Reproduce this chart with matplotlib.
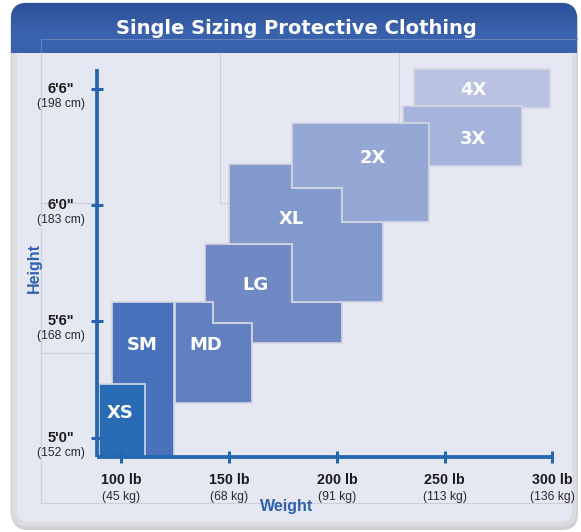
import numpy as np
import matplotlib
matplotlib.use("Agg")
import matplotlib.pyplot as plt
from matplotlib import font_manager as fm
from matplotlib.patches import FancyBboxPatch, Rectangle
from matplotlib.colors import LinearSegmentedColormap

# ---------------- data ----------------
size_names = ["4X", "3X", "SM", "XS", "MD", "LG", "XL", "2X"]
size_colors = ["#b9c2e1", "#a6b3db", "#4873bc", "#2a6bb5",
               "#6080c2", "#7089c4", "#8299ce", "#95a7d4"]
# outline vertices of each size region: weight (lb), height (in)
w_4x = [235.6, 299.0, 299.0, 235.6]
h_4x = [79.0, 79.0, 77.0, 77.0]
w_3x = [230.5, 286.0, 286.0, 230.5]
h_3x = [77.1, 77.1, 74.0, 74.0]
w_sm = [95.8, 124.3, 124.3, 95.8]
h_sm = [67.0, 67.0, 59.0, 59.0]
w_xs = [89.6, 110.9, 110.9, 89.6]
h_xs = [62.8, 62.8, 59.0, 59.0]
w_md = [124.9, 142.6, 142.6, 160.5, 160.5, 124.9]
h_md = [67.0, 67.0, 65.9, 65.9, 61.8, 61.8]
w_lg = [138.8, 179.0, 179.0, 202.5, 202.5, 160.5, 160.5, 142.6, 142.6, 138.8]
h_lg = [70.0, 70.0, 67.0, 67.0, 64.9, 64.9, 65.9, 65.9, 67.0, 67.0]
w_xl = [149.8, 179.0, 179.0, 202.5, 202.5, 221.5, 221.5, 179.0, 179.0, 149.8]
h_xl = [74.1, 74.1, 72.9, 72.9, 71.1, 71.1, 67.0, 67.0, 70.0, 70.0]
w_2x = [179.0, 242.8, 242.8, 202.5, 202.5, 179.0]
h_2x = [76.2, 76.2, 71.1, 71.1, 72.9, 72.9]
size_w = [w_4x, w_3x, w_sm, w_xs, w_md, w_lg, w_xl, w_2x]
size_h = [h_4x, h_3x, h_sm, h_xs, h_md, h_lg, h_xl, h_2x]
label_w = [263.2, 263.2, 109.6, 99.6, 139.3, 162.0, 178.7, 216.8]
label_h = [77.9, 75.4, 64.8, 61.3, 64.8, 67.9, 71.3, 74.4]

weight_ticks = [100, 150, 200, 250, 300]
weight_labels = ["100 lb", "150 lb", "200 lb", "250 lb", "300 lb"]
weight_kg = ["(45 kg)", "(68 kg)", "(91 kg)", "(113 kg)", "(136 kg)"]
height_ticks = [60, 66, 72, 78]
height_labels = ["5'0\"", "5'6\"", "6'0\"", "6'6\""]
height_cm = ["(152 cm)", "(168 cm)", "(183 cm)", "(198 cm)"]
axis_w_min, axis_w_max = 88.7, 300
axis_h_min, axis_h_max = 59.0, 79.0

title = "Single Sizing Protective Clothing"

# ---------------- fonts ----------------
def has_font(name):
    try:
        fm.findfont(fm.FontProperties(family=name), fallback_to_default=False)
        return True
    except Exception:
        return False

NARROW = has_font("Liberation Sans Narrow")
if NARROW:
    cond_family = ["Liberation Sans Narrow", "DejaVu Sans"]
    title_size, size_label_size = 18.5, 16
else:
    cond_family = ["DejaVu Sans"]
    title_size, size_label_size = 14, 13
base_family = ["Liberation Sans", "DejaVu Sans"]

W, H = 581, 532
fig = plt.figure(figsize=(W / 100, H / 100), dpi=100)

# ---------------- background (pixel coords) ----------------
bg = fig.add_axes([0, 0, 1, 1])
bg.set_xlim(0, W)
bg.set_ylim(H, 0)
bg.axis("off")

bg.add_patch(FancyBboxPatch((12, 5), 566, 525, boxstyle="round,pad=0,rounding_size=16",
                            facecolor="#cfcfd3", edgecolor="none", zorder=0))
bg.add_patch(FancyBboxPatch((11, 3), 566, 524, boxstyle="round,pad=0,rounding_size=16",
                            facecolor="#dcdce0", edgecolor="#d2d2d6", lw=0.8, zorder=1))
bg.add_patch(FancyBboxPatch((17, 20), 555, 502, boxstyle="round,pad=0,rounding_size=12",
                            facecolor="#e5e7f3", edgecolor="none", zorder=2))

banner = FancyBboxPatch((11, 3), 566, 50, boxstyle="round,pad=0,rounding_size=16",
                        facecolor="#3a5fa9", edgecolor="none", zorder=3)
bg.add_patch(banner)
grad = np.linspace(0, 1, 60).reshape(-1, 1)
cmap = LinearSegmentedColormap.from_list("b", ["#2c509a", "#3a60aa", "#3862ad"])
im = bg.imshow(grad, extent=(11, 577, 53, 3), cmap=cmap, aspect="auto", zorder=3.5)
im.set_clip_path(banner)
bg.add_patch(Rectangle((11, 30), 566, 23, facecolor="#3862ad", edgecolor="none", zorder=3.6))

line_c = "#cdd0dc"
bg.plot([41, 577], [38.5, 38.5], color="#6682bd", lw=0.8, zorder=4)
bg.plot([41, 41], [38.5, 53], color="#6682bd", lw=0.8, zorder=4)
bg.plot([41, 41], [53, 503], color=line_c, lw=0.8, zorder=4)
bg.plot([41, 573], [503, 503], color=line_c, lw=0.8, zorder=4)
bg.plot([41, 97], [203, 203], color=line_c, lw=0.8, zorder=4)
bg.plot([41, 97], [353, 353], color=line_c, lw=0.8, zorder=4)
bg.plot([220, 220, 229], [53, 203, 203], color=line_c, lw=0.8, zorder=4)
bg.plot([398.5, 398.5], [53, 150], color=line_c, lw=0.8, zorder=4)

bg.text(296, 34.5, title, color="white", fontsize=title_size, fontweight="bold",
        family=cond_family, ha="center", va="baseline", zorder=5)

bg.text(287, 511, "Weight", color="#2f62ae", fontsize=11.5, fontweight="bold",
        family=base_family, ha="center", va="baseline", zorder=5)
bg.text(34, 268, "Height", color="#2f62ae", fontsize=11.5, fontweight="bold",
        family=base_family, ha="center", va="center", rotation=90, zorder=5)

# ---------------- data axes ----------------
# pixel mapping: px = 336.9 + 2.155*(w-200) ; py = 263.2 - 19.41*(h-69)
xl = (80, 310)
yl = (57, 80.5)
px0 = 336.9 + 2.155 * (xl[0] - 200)
px1 = 336.9 + 2.155 * (xl[1] - 200)
py0 = 263.2 - 19.41 * (yl[0] - 69)
py1 = 263.2 - 19.41 * (yl[1] - 69)
ax = fig.add_axes([px0 / W, 1 - py0 / H, (px1 - px0) / W, (py0 - py1) / H])
ax.set_xlim(*xl)
ax.set_ylim(*yl)
ax.patch.set_visible(False)

for name, col, ws, hs, lw_, lh_ in zip(size_names, size_colors, size_w, size_h, label_w, label_h):
    ax.fill(ws, hs, facecolor=col, edgecolor="#d5d7e1", lw=1.2, zorder=1)
    ax.text(lw_, lh_, name, color="white", fontsize=size_label_size, fontweight="bold",
            family=cond_family, ha="center", va="center", zorder=2)

axis_c = "#2566b0"
for s in ["top", "right"]:
    ax.spines[s].set_visible(False)
ax.spines["left"].set_position(("data", axis_w_min))
ax.spines["bottom"].set_position(("data", axis_h_min))
ax.spines["left"].set_bounds(axis_h_min, axis_h_max)
ax.spines["bottom"].set_bounds(axis_w_min, axis_w_max)
for s in ["left", "bottom"]:
    ax.spines[s].set_color(axis_c)
    ax.spines[s].set_linewidth(2.7)
    ax.spines[s].set_zorder(3)
    ax.spines[s].set_capstyle("butt")
ax.set_xticks(weight_ticks)
ax.set_yticks(height_ticks)
ax.tick_params(axis="both", direction="inout", length=9.2, width=2.2, color=axis_c,
               labelbottom=False, labelleft=False)

for wt, lb, kg in zip(weight_ticks, weight_labels, weight_kg):
    ax.annotate(lb, xy=(wt, axis_h_min), xytext=(0, -26.5), textcoords="offset pixels",
                ha="center", va="baseline", fontsize=10.3, fontweight="bold",
                color="#1c1c1c", family=base_family, annotation_clip=False)
    ax.annotate(kg, xy=(wt, axis_h_min), xytext=(0, -42.5), textcoords="offset pixels",
                ha="center", va="baseline", fontsize=8.7, color="#2a2a2a",
                family=base_family, annotation_clip=False)

for ht, lb, cm in zip(height_ticks, height_labels, height_cm):
    ax.annotate(lb, xy=(axis_w_min, ht), xytext=(-36, -4), textcoords="offset pixels",
                ha="center", va="baseline", fontsize=10.5, fontweight="bold",
                color="#1c1c1c", family=base_family, annotation_clip=False)
    ax.annotate(cm, xy=(axis_w_min, ht), xytext=(-36, -18), textcoords="offset pixels",
                ha="center", va="baseline", fontsize=8.7, color="#2a2a2a",
                family=base_family, annotation_clip=False)

fig.savefig("out.png", dpi=100)
